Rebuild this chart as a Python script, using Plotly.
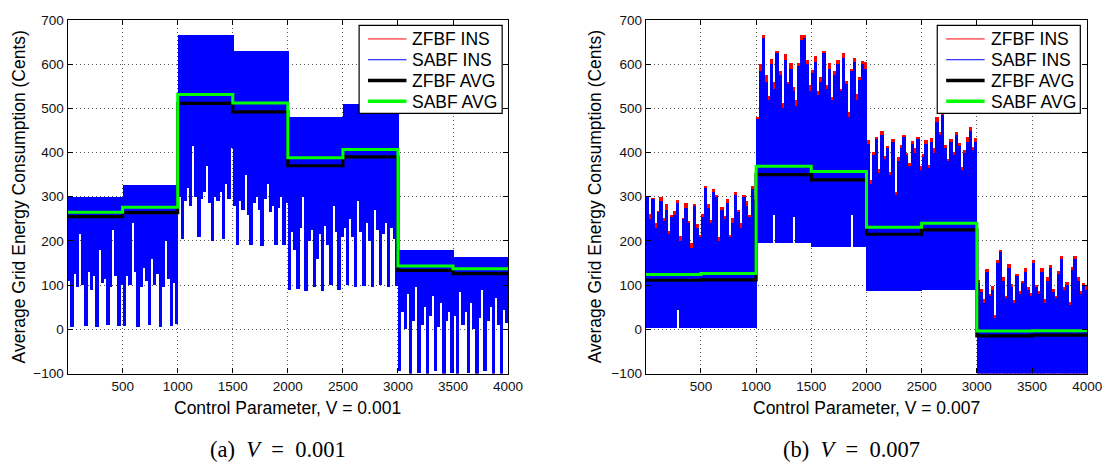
import numpy as np
import plotly.graph_objects as go

# ---------------- data ----------------
SEG_EDGES = [0, 500, 1000, 1500, 2000, 2500, 3000, 3500, 4000]
SAMPLES_PER_SEG = 20
X_TICKS = [500, 1000, 1500, 2000, 2500, 3000, 3500, 4000]
Y_TICKS = [-100, 0, 100, 200, 300, 400, 500, 600, 700]

# Panel (a): V = 0.001
A_SABF_TOP = [300, 326, 665, 630, 480, 510, 180, 165]
A_ZFBF_TOP = [300, 326, 665, 630, 480, 510, 180, 165]
A_LOW = [
    110, 5, 125, 95, 215, 100, 8, 130, 90, 120, 6, 180, 105, 115, 10, 95, 225, 120, 7, 100,
    8, 120, 100, 240, 130, 6, 95, 140, 110, 10, 160, 100, 125, 5, 95, 200, 115, 8, 105, 12,
    300, 205, 290, 320, 280, 415, 300, 210, 295, 310, 370, 285, 200, 300, 290, 310, 205, 330, 295, 410,
    280, 190, 290, 270, 350, 260, 192, 285, 300, 270, 188, 295, 330, 265, 280, 190, 275, 300, 192, 285,
    90, 220, 180, 92, 230, 300, 88, 200, 225, 95, 160, 215, 88, 235, 190, 100, 280, 220, 90, 210,
    230, 100, 250, 210, 96, 290, 220, 98, 240, 200, 95, 270, 225, 100, 215, 240, 96, 230, 205, 98,
    -95, 40, 0, 80, -100, 20, 95, -98, 10, 50, -100, 30, 75, -95, 5, 60, -100, 20, 40, -99,
    30, -100, 85, 10, 40, -98, 60, 0, -100, 25, 90, -95, 20, 50, -100, 70, 10, -100, 45, 15,
]
A_ZFBF_AVG = [255, 264, 511, 492, 370, 390, 133, 126]
A_SABF_AVG = [265, 276, 531, 512, 388, 407, 143, 137]

# Panel (b): V = 0.007
B_SABF_HIGH = [
    300, 250, 295, 230, 265, 290, 245, 270, 215, 255, 260, 285, 200, 250, 275, 240, 185, 280, 230, 210,
    255, 320, 275, 240, 310, 300, 200, 270, 250, 285, 210, 240, 305, 265, 230, 300, 280, 255, 318, 290,
    475, 585, 660, 560, 520, 600, 545, 625, 575, 500, 610, 555, 590, 540, 505, 595, 655, 660, 600, 540,
    580, 605, 530, 560, 625, 545, 590, 520, 575, 600, 540, 615, 555, 480, 585, 605, 520, 565, 600, 590,
    420, 330, 395, 430, 355, 440, 385, 410, 350, 425, 305, 380, 410, 435, 395, 370, 420, 400, 430, 360,
    390, 420, 365, 425, 400, 470, 440, 485, 410, 380, 425, 395, 440, 415, 360, 400, 425, 450, 405, 425,
    105, 85, 60, 130, 75, 90, 25, 150, 175, 110, 70, 140, 95, 60, 120, 80, 105, 130, 90, 75,
    150, 95, 80, 130, 60, 110, 140, 85, 70, 125, 160, 90, 100, 55, 135, 160, 110, 80, 100, 90,
]
B_ZFBF_HIGH = [
    302, 262, 298, 240, 268, 300, 252, 283, 222, 258, 268, 292, 212, 253, 286, 245, 195, 283, 238, 214,
    262, 325, 283, 248, 318, 304, 210, 276, 256, 296, 214, 252, 312, 270, 240, 305, 291, 260, 325, 294,
    480, 600, 665, 575, 528, 612, 560, 630, 585, 512, 622, 560, 603, 548, 520, 603, 665, 665, 610, 552,
    586, 618, 540, 572, 630, 552, 603, 526, 585, 610, 545, 626, 563, 492, 590, 613, 532, 570, 608, 605,
    428, 338, 402, 436, 362, 448, 392, 416, 356, 430, 312, 390, 418, 440, 400, 377, 426, 410, 436, 370,
    398, 428, 372, 432, 410, 480, 446, 490, 418, 386, 431, 402, 446, 422, 368, 405, 435, 458, 412, 432,
    112, 92, 68, 136, 80, 98, 32, 158, 180, 118, 76, 148, 102, 66, 126, 88, 110, 138, 96, 82,
    158, 100, 88, 138, 68, 118, 146, 92, 76, 132, 166, 96, 108, 62, 142, 166, 118, 86, 106, 98,
]
B_LOW = [
    3, 3, 3, 3, 3, 3, 3, 3, 3, 3, 3, 45, 3, 3, 3, 3, 3, 3, 3, 3,
    3, 3, 3, 3, 3, 3, 3, 3, 3, 3, 3, 3, 3, 3, 3, 3, 3, 3, 3, 3,
    195, 195, 195, 195, 195, 195, 260, 195, 195, 195, 195, 195, 195, 255, 195, 195, 195, 195, 195, 195,
    187, 187, 187, 187, 187, 187, 187, 187, 187, 187, 187, 187, 187, 187, 260, 187, 187, 187, 187, 187,
    87, 87, 87, 87, 87, 87, 87, 87, 87, 87, 87, 87, 87, 87, 87, 87, 87, 87, 87, 87,
    90, 90, 90, 90, 90, 90, 90, 90, 90, 90, 90, 90, 90, 90, 90, 90, 90, 90, 90, 90,
    -100, -100, -100, -100, -100, -100, -100, -100, -100, -100, -100, -100, -100, -100, -100, -100, -100, -100, -100, -100,
    -100, -100, -100, -100, -100, -100, -100, -100, -100, -100, -100, -100, -100, -100, -100, -100, -100, -100, -100, -100,
]
B_ZFBF_AVG = [111, 112, 350, 338, 215, 225, -15, -13]
B_SABF_AVG = [124, 126, 369, 357, 231, 240, -4, -3]

LEGEND_NAMES = ["ZFBF INS", "SABF INS", "ZFBF AVG", "SABF AVG"]
X_TITLES = ["Control Parameter, V = 0.001", "Control Parameter, V = 0.007"]
Y_TITLE = "Average Grid Energy Consumption (Cents)"
CAPTIONS = ["(a)&nbsp; <i>V</i>&nbsp; =&nbsp; 0.001", "(b)&nbsp; <i>V</i>&nbsp; =&nbsp; 0.007"]

# ---------------- figure ----------------
W, H = 1118, 466
SANS = "Liberation Sans, Arial, Helvetica, sans-serif"
SERIF = "Liberation Serif, Times New Roman, serif"
RED, BLUE, BLACK, GREEN = "#ff0000", "#0000ff", "#000000", "#00ff00"

n = len(A_LOW)
step = (SEG_EDGES[-1] - SEG_EDGES[0]) / n
xc = SEG_EDGES[0] + step * (np.arange(n) + 0.5)
bw = step * 1.25

fig = go.Figure()


def add_panel(ax, z_hi, s_hi, z_lo, s_lo, z_avg, s_avg):
    xa, ya = ("x", "y") if ax == 1 else ("x2", "y2")
    z_hi = np.asarray(z_hi, float)
    s_hi = np.asarray(s_hi, float)
    z_lo = np.asarray(z_lo, float)
    s_lo = np.asarray(s_lo, float)
    fig.add_trace(go.Bar(x=xc, y=z_hi - z_lo, base=z_lo, width=bw, xaxis=xa, yaxis=ya,
                         name=LEGEND_NAMES[0], marker=dict(color=RED, line=dict(width=0)),
                         showlegend=False, hoverinfo="skip"))
    fig.add_trace(go.Bar(x=xc, y=s_hi - s_lo, base=s_lo, width=bw, xaxis=xa, yaxis=ya,
                         name=LEGEND_NAMES[1], marker=dict(color=BLUE, line=dict(width=0)),
                         showlegend=False, hoverinfo="skip"))
    ex = SEG_EDGES
    fig.add_trace(go.Scatter(x=ex, y=list(z_avg) + [z_avg[-1]], mode="lines", line_shape="hv",
                             name=LEGEND_NAMES[2], line=dict(color=BLACK, width=3.2),
                             xaxis=xa, yaxis=ya, showlegend=False, hoverinfo="skip"))
    fig.add_trace(go.Scatter(x=ex, y=list(s_avg) + [s_avg[-1]], mode="lines", line_shape="hv",
                             name=LEGEND_NAMES[3], line=dict(color=GREEN, width=3),
                             xaxis=xa, yaxis=ya, showlegend=False, hoverinfo="skip"))


a_z_top = np.repeat(A_ZFBF_TOP, SAMPLES_PER_SEG)
a_s_top = np.repeat(A_SABF_TOP, SAMPLES_PER_SEG)
add_panel(1, a_z_top, a_s_top, A_LOW, A_LOW, A_ZFBF_AVG, A_SABF_AVG)
add_panel(2, B_ZFBF_HIGH, B_SABF_HIGH, B_LOW, B_LOW, B_ZFBF_AVG, B_SABF_AVG)

px_l = [68.5, 654.5]
px_r = [515.0, 1102.0]
py_t, py_b = 13.3, 378.7
ydom = [1 - py_b / H, 1 - py_t / H]

axis_common = dict(
    showline=True, linecolor="black", linewidth=1.2, mirror="ticks",
    ticks="inside", ticklen=5, tickwidth=1, tickcolor="black",
    showgrid=True, gridcolor="#555555", gridwidth=1, griddash="1px,3px",
    zeroline=False, tickfont=dict(family=SANS, size=13.5, color="#111111"),
)

for i in range(2):
    sfx = "" if i == 0 else "2"
    fig.update_layout(**{
        "xaxis" + sfx: dict(axis_common, domain=[px_l[i] / W, px_r[i] / W],
                            range=[SEG_EDGES[0], SEG_EDGES[-1]], tickvals=X_TICKS,
                            anchor="y" + sfx),
        "yaxis" + sfx: dict(axis_common, domain=ydom, range=[-100, 700],
                            tickvals=Y_TICKS, anchor="x" + sfx),
    })

# ---- legend boxes (drawn in paper pixels) ----
shapes = []
annotations = []


def px2x(v):
    return v / W


def px2y(v):
    return 1 - v / H


legend_styles = [(RED, 1), (BLUE, 1), (BLACK, 3.5), (GREEN, 3.5)]
for box_left in [364.0, 950.0]:
    box_right = box_left + 145
    shapes.append(dict(type="rect", xref="paper", yref="paper",
                       x0=px2x(box_left), x1=px2x(box_right), y0=px2y(110), y1=px2y(19),
                       fillcolor="white", line=dict(color="black", width=1.2), layer="above"))
    for k, (col, wd) in enumerate(legend_styles):
        ry = 33 + k * 21.5
        shapes.append(dict(type="line", xref="paper", yref="paper",
                           x0=px2x(box_left + 9), x1=px2x(box_left + 48), y0=px2y(ry), y1=px2y(ry),
                           line=dict(color=col, width=wd), layer="above"))
        annotations.append(dict(text=LEGEND_NAMES[k], x=px2x(box_left + 52), y=px2y(ry + 0.5),
                                xref="paper", yref="paper", xanchor="left", yanchor="middle",
                                showarrow=False,
                                font=dict(family=SANS, size=17.5, color="black")))

for i in range(2):
    cx = (px_l[i] + px_r[i]) / 2
    annotations.append(dict(text=X_TITLES[i], x=cx / W, y=px2y(414), xref="paper", yref="paper",
                            xanchor="center", yanchor="middle", showarrow=False,
                            font=dict(family=SANS, size=17.5, color="black")))
    annotations.append(dict(text=Y_TITLE, x=[19, 602.7][i] / W, y=px2y((py_t + py_b) / 2),
                            xref="paper", yref="paper", xanchor="center", yanchor="middle",
                            textangle=-90, showarrow=False,
                            font=dict(family=SANS, size=17.5, color="black")))
    annotations.append(dict(text=CAPTIONS[i], x=[281.5, 863.5][i] / W, y=px2y(457),
                            xref="paper", yref="paper", xanchor="center", yanchor="middle",
                            showarrow=False, font=dict(family=SERIF, size=22.5, color="black")))

fig.update_layout(
    width=W, height=H, margin=dict(l=0, r=0, t=0, b=0),
    paper_bgcolor="white", plot_bgcolor="white", showlegend=False,
    barmode="overlay", bargap=0, annotations=annotations, shapes=shapes,
)

fig.write_html("out.html")
